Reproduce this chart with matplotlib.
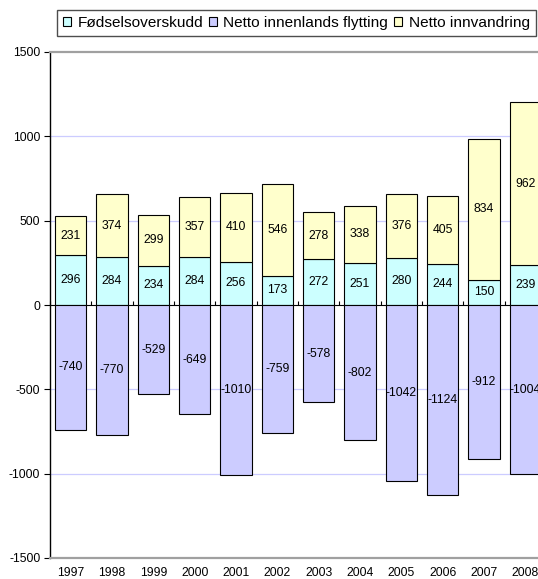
import matplotlib
matplotlib.use("Agg")
import matplotlib.pyplot as plt
import numpy as np

years = ["1997", "1998", "1999", "2000", "2001", "2002", "2003", "2004", "2005", "2006", "2007", "2008"]
fodsel = [296, 284, 234, 284, 256, 173, 272, 251, 280, 244, 150, 239]
innenlands = [-740, -770, -529, -649, -1010, -759, -578, -802, -1042, -1124, -912, -1004]
innvandring = [231, 374, 299, 357, 410, 546, 278, 338, 376, 405, 834, 962]
labels = ["Fødselsoverskudd", "Netto innenlands flytting", "Netto innvandring"]
colors = ["#CCFFFF", "#CCCCFF", "#FFFFCC"]

plt.rcParams['font.family'] = ['Liberation Sans', 'DejaVu Sans']
plt.rcParams['axes.unicode_minus'] = False

W, H = 538, 579
fig = plt.figure(figsize=(W / 100, H / 100), dpi=100)
left = 50 / W
right = 546 / W
bottom = 1 - 558 / H
top = 1 - 52 / H
ax = fig.add_axes([left, bottom, right - left, top - bottom])

x = np.arange(len(years))
bw = 0.76
b1 = ax.bar(x, fodsel, bw, color=colors[0], edgecolor="black", linewidth=0.8, zorder=3, label=labels[0])
b2 = ax.bar(x, innenlands, bw, color=colors[1], edgecolor="black", linewidth=0.8, zorder=3, label=labels[1])
b3 = ax.bar(x, innvandring, bw, bottom=fodsel, color=colors[2], edgecolor="black", linewidth=0.8, zorder=3, label=labels[2])

for bars in (b1, b2, b3):
    ax.bar_label(bars, labels=[str(int(v)) for v in bars.datavalues], label_type="center", fontsize=8.8, zorder=5)

ax.set_xlim(-0.5, len(years) - 0.5)
ax.set_ylim(-1500, 1500)
ax.set_yticks(np.arange(-1500, 1501, 500))
ax.tick_params(axis="y", direction="out", length=4, width=0.8, labelsize=8.7, pad=3)

for yv in (-1000, -500, 500, 1000):
    ax.axhline(yv, color="#CCCCFF", linewidth=0.9, zorder=1)

ax.spines["right"].set_visible(False)
ax.spines["top"].set_color("#A0A0A0")
ax.spines["top"].set_linewidth(1.6)
ax.spines["bottom"].set_color("#A0A0A0")
ax.spines["bottom"].set_linewidth(1.6)
ax.spines["left"].set_color("black")
ax.spines["left"].set_linewidth(1.0)

ax.set_xticks(x)
ax.set_xticklabels(years, fontsize=8.7)
ax.tick_params(axis="x", length=0, pad=6.5)

sec = ax.secondary_xaxis(0.5)
sec.set_xticks(np.arange(-0.5, len(years), 1.0))
sec.set_xticklabels([])
sec.tick_params(axis="x", direction="out", length=3, width=0.8, color="black")
sec.spines["bottom"].set_color("black")
sec.spines["bottom"].set_linewidth(1.0)
sec.spines["bottom"].set_zorder(4)

leg = fig.legend(handles=[b1, b2, b3], labels=labels, loc="upper left",
                 bbox_to_anchor=(57 / W, 1 - 10 / H), ncol=3, frameon=True,
                 fancybox=False, edgecolor="#202020", fontsize=11.1,
                 handlelength=0.55, handleheight=0.55, handletextpad=0.4,
                 columnspacing=0.36, borderpad=0.38, borderaxespad=0)
leg.get_frame().set_linewidth(1.0)

fig.savefig("out.png", dpi=100)
